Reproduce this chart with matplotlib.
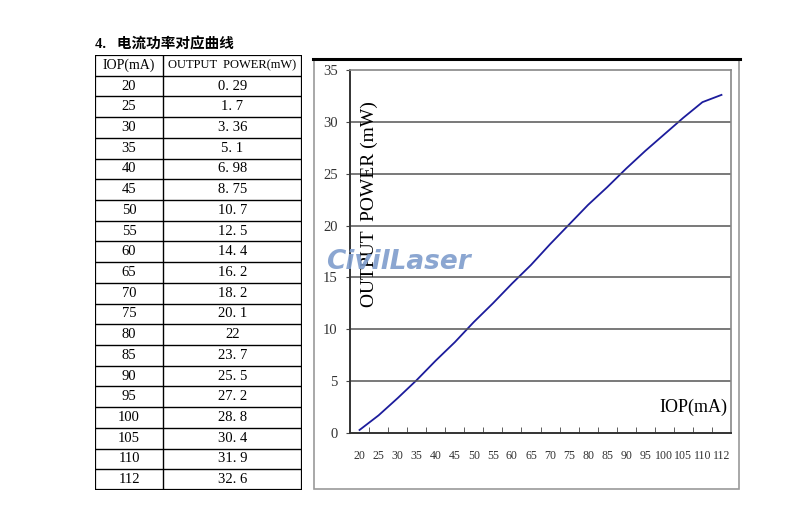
import matplotlib.pyplot as plt
import matplotlib.lines as mlines
from matplotlib.patches import Rectangle

iop = [20, 25, 30, 35, 40, 45, 50, 55, 60, 65, 70, 75, 80, 85, 90, 95, 100, 105, 110, 112]
power = [0.29, 1.7, 3.36, 5.1, 6.98, 8.75, 10.7, 12.5, 14.4, 16.2,
         18.2, 20.1, 22, 23.7, 25.5, 27.2, 28.8, 30.4, 31.9, 32.6]
y_ticks = [0, 5, 10, 15, 20, 25, 30, 35]

W, H = 800, 522
fig = plt.figure(figsize=(8, 5.22), dpi=100)
fig.patch.set_facecolor('white')

def fx(px):
    return px / W

def fy(py):
    return 1 - py / H

serif = ['Liberation Serif', 'Noto Sans CJK SC']

# title
fig.text(fx(95), fy(44), '4.   电流功率对应曲线', family=serif, fontsize=10.5,
         fontweight='bold', va='center', ha='left')

# ---- table (drawn by hand) ----
tx0, tx1, tsplit = 95, 302, 163
ty0, ty1 = 55, 490
tax = fig.add_axes([fx(tx0), fy(ty1), fx(tx1 - tx0), (ty1 - ty0) / H])
tax.set_xlim(0, tx1 - tx0)
nrows = len(iop) + 1
tax.set_ylim(nrows, 0)
tax.axis('off')
for r in range(nrows + 1):
    lw = 1.6 if r in (0, nrows) else 1.0
    tax.axhline(r, color='black', lw=lw)
for xv, lw in [(0, 1.6), (tsplit - tx0, 1.0), (tx1 - tx0, 1.6)]:
    tax.axvline(xv, color='black', lw=lw)
c1 = (tsplit - tx0) / 2
c2 = (tsplit - tx0) + (tx1 - tsplit) / 2
tax.text(c1, 0.5, 'IOP(mA)', ha='center', va='center', family=serif, fontsize=10)
tax.text(c2, 0.5, 'OUTPUT  POWER(mW)', ha='center', va='center', family=serif, fontsize=9)
for i, (a, p) in enumerate(zip(iop, power)):
    tax.text(c1, i + 1.5, str(a), ha='center', va='center', family=serif, fontsize=10.5)
    tax.text(c2, i + 1.5, str(p).replace('.', '. '), ha='center', va='center',
             family=serif, fontsize=10.5)

# ---- chart frame ----
fig.patches.append(Rectangle((fx(314), fy(489)), fx(739 - 314), (489 - 59) / H,
                             transform=fig.transFigure, fill=False,
                             edgecolor='#9a9a9a', lw=1.2))
fig.lines.append(mlines.Line2D([fx(313), fx(740)], [fy(59), fy(59)],
                               transform=fig.transFigure, color='black', lw=2.2))

ax = fig.add_axes([fx(350), fy(433), fx(381), (433 - 70) / H])
x = list(range(len(iop)))
ax.plot(x, power, color='#1c1c9c', lw=1.3)
ax.set_xlim(-0.5, len(iop) - 0.5)
ax.set_ylim(0, 35)
ax.set_yticks(y_ticks)
ax.set_yticklabels([str(v) for v in y_ticks], family=serif, fontsize=10.5, color='#333333')
ax.set_xticks(x)
ax.set_xticklabels([str(v) for v in iop], family=serif, fontsize=8.6, color='#333333')
ax.set_xticks([i + 0.5 for i in x[:-1]], minor=True)
ax.tick_params(axis='x', which='major', length=0, pad=12)
ax.tick_params(axis='x', which='minor', direction='in', length=4, color='#444444')
ax.tick_params(axis='y', length=3, pad=6, color='#444444')
for yv in y_ticks[1:-1]:
    ax.axhline(yv, color='#555555', lw=1.1)
for s in ['top', 'right']:
    ax.spines[s].set_color('#888888')
    ax.spines[s].set_linewidth(1.2)
for s in ['left', 'bottom']:
    ax.spines[s].set_color('#333333')
    ax.spines[s].set_linewidth(1.4)

ax.text(0.052, 0.63, 'OUTPUT  POWER (mW)', transform=ax.transAxes, rotation=90,
        ha='center', va='center', family=serif, fontsize=14)
ax.text(0.99, 0.07, 'IOP(mA)', transform=ax.transAxes, ha='right', va='center',
        family=serif, fontsize=13)

# watermark
fig.text(fx(398), fy(262), 'CivilLaser', ha='center', va='center', fontsize=19,
         fontweight='bold', fontstyle='italic', color='#7f9dcc', alpha=0.9,
         family='DejaVu Sans', zorder=10)

fig.savefig('out.png', dpi=100, facecolor='white')
